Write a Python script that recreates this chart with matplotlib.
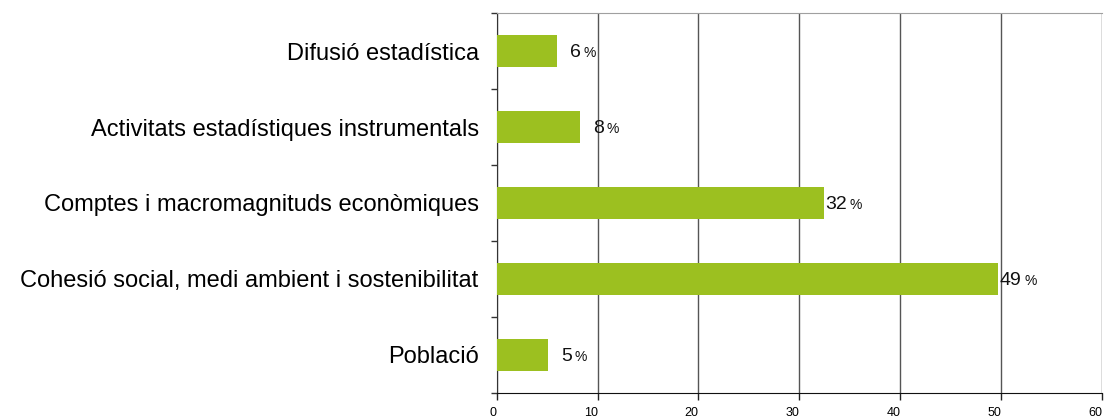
import numpy as np
import matplotlib.pyplot as plt

# dades (de baix a dalt)
categories = ["Població",
              "Cohesió social, medi ambient i sostenibilitat",
              "Comptes i macromagnituds econòmiques",
              "Activitats estadístiques instrumentals",
              "Difusió estadística"]
values = [5.1, 49.7, 32.4, 8.3, 6.0]
value_labels = ["5", "49", "32", "8", "6"]
x_ticks = [0, 10, 20, 30, 40, 50, 60]

plt.rcParams["font.family"] = ["Liberation Sans", "DejaVu Sans"]

fig = plt.figure(figsize=(11.05, 4.17), dpi=100)
ax = fig.add_axes([0.4495, 0.0576, 0.5478, 0.9112])

y = np.arange(len(categories))
ax.barh(y, values, height=0.42, color="#9cc020", zorder=3)

for yi, v, lab in zip(y, values, value_labels):
    ax.annotate(lab, (v, yi), xytext=(17, -4.5), textcoords="offset points",
                ha="right", va="baseline", fontsize=14, color="#111111")
    ax.annotate("%", (v, yi), xytext=(19, -4.5), textcoords="offset points",
                ha="left", va="baseline", fontsize=10, color="#111111")

ax.set_xlim(0, 60)
ax.set_ylim(-0.5, len(categories) - 0.5)
ax.set_xticks(x_ticks)
ax.set_xticklabels([str(t) for t in x_ticks], fontsize=9, ha="right")
ax.set_yticks(y)
ax.set_yticklabels(categories, fontsize=17)
ax.set_yticks(np.arange(-0.5, len(categories), 1), minor=True)

ax.tick_params(axis="y", which="major", length=0, pad=13)
ax.tick_params(axis="y", which="minor", length=4, width=1, color="#333333", direction="out")
ax.tick_params(axis="x", length=5, width=1, color="#222222", pad=5)

ax.xaxis.grid(True, color="#555555", linewidth=1, zorder=0)
ax.set_axisbelow(True)

ax.spines["right"].set_visible(False)
ax.spines["top"].set_color("#a0a0a0")
ax.spines["left"].set_color("#333333")
ax.spines["bottom"].set_color("#111111")

fig.savefig("out.png", dpi=100)
